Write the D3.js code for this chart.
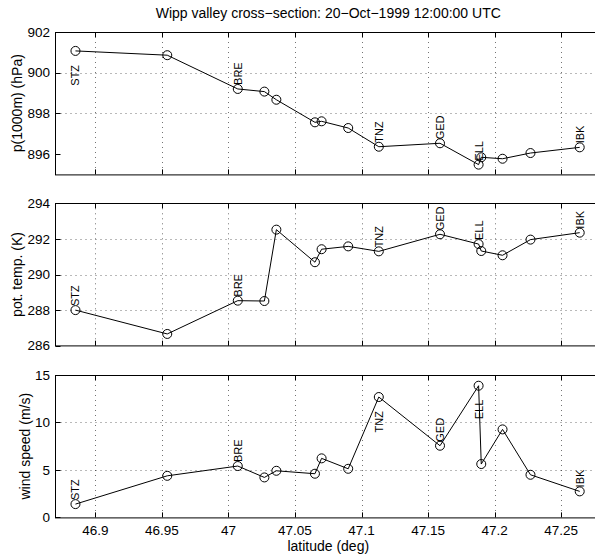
<!DOCTYPE html>
<html>
<head>
<meta charset="utf-8">
<script src="https://cdn.jsdelivr.net/npm/d3@7"></script>
<style>
  body { margin: 0; background: #fff; }
  text { font-family: "Liberation Sans", Arial, Helvetica, sans-serif; }
</style>
</head>
<body>
<div id="chart"></div>
<script>
// station data along the valley
const stations  = ["STZ", "", "BRE", "", "", "", "", "", "TNZ", "GED", "ELL", "", "", "", "IBK"]
const latitude  = [46.885, 46.954, 47.007, 47.027, 47.036, 47.065, 47.070, 47.090, 47.113, 47.159, 47.188, 47.190, 47.206, 47.227, 47.264]
const pressure  = [901.07, 900.86, 899.20, 899.07, 898.67, 897.56, 897.61, 897.28, 896.36, 896.53, 895.48, 895.84, 895.77, 896.05, 896.33]
const potTemp   = [288.00, 286.66, 288.53, 288.51, 292.52, 290.69, 291.42, 291.58, 291.30, 292.26, 291.71, 291.32, 291.08, 291.96, 292.35]
const windSpeed = [1.40, 4.38, 5.41, 4.21, 4.91, 4.60, 6.22, 5.12, 12.68, 7.55, 13.87, 5.62, 9.27, 4.49, 2.74]

// which side of the point the station name goes: 1 above, -1 below
const pressureSide = [-1, 0, 1, 0, 0, 0, 0, 0, 1, 1, 1, 0, 0, 0, 1]
const tempSide     = [1, 0, 1, 0, 0, 0, 0, 0, 1, 1, 1, 0, 0, 0, 1]
const windSide     = [1, 0, 1, 0, 0, 0, 0, 0, -1, 1, -1, 0, 0, 0, 1]

const xTicks = [46.9, 46.95, 47, 47.05, 47.1, 47.15, 47.2, 47.25]
const xTickLabels = ["46.9", "46.95", "47", "47.05", "47.1", "47.15", "47.2", "47.25"]
const pressureTicks = [896, 898, 900, 902]
const tempTicks = [286, 288, 290, 292, 294]
const windTicks = [0, 5, 10, 15]

const title = "Wipp valley cross\u2212section: 20\u2212Oct\u22121999 12:00:00 UTC"

const W = 595, H = 554
const margin = { left: 55.5, right: 601 }
const panelH = 142.4

const panels = [
  { top: 32,    values: pressure,  domain: [895, 902], ticks: pressureTicks, label: "p(1000m) (hPa)", side: pressureSide },
  { top: 203.3, values: potTemp,   domain: [286, 294], ticks: tempTicks,     label: "pot. temp. (K)", side: tempSide },
  { top: 375,   values: windSpeed, domain: [0, 15],    ticks: windTicks,     label: "wind speed (m/s)", side: windSide },
]

const svg = d3.select("#chart")
  .append("svg")
  .attr("width", W)
  .attr("height", H)

const x = d3.scaleLinear()
  .domain([46.87, 47.28])
  .range([margin.left, margin.right])

panels.forEach((p, pi) => {
  const y = d3.scaleLinear()
    .domain(p.domain)
    .range([p.top + panelH, p.top])

  const g = svg.append("g")

  // dotted grid
  xTicks.forEach(t => {
    g.append("line")
      .attr("x1", Math.round(x(t)) + 0.5).attr("x2", Math.round(x(t)) + 0.5)
      .attr("y1", p.top).attr("y2", p.top + panelH)
      .attr("stroke", "#000").attr("stroke-opacity", 0.55)
      .attr("stroke-dasharray", "1,4")
  })
  p.ticks.slice(1, -1).forEach(t => {
    g.append("line")
      .attr("x1", margin.left).attr("x2", margin.right)
      .attr("y1", Math.round(y(t)) + 0.5).attr("y2", Math.round(y(t)) + 0.5)
      .attr("stroke", "#000").attr("stroke-opacity", 0.55)
      .attr("stroke-dasharray", "1,4")
  })

  // box
  g.append("rect")
    .attr("x", margin.left).attr("y", Math.round(p.top) + 0.5)
    .attr("width", margin.right - margin.left).attr("height", panelH)
    .attr("fill", "none").attr("stroke", "#000").attr("stroke-width", 1)

  // inward ticks
  xTicks.forEach(t => {
    const xx = Math.round(x(t)) + 0.5
    g.append("line").attr("x1", xx).attr("x2", xx)
      .attr("y1", p.top + panelH).attr("y2", p.top + panelH - 5).attr("stroke", "#000")
    g.append("line").attr("x1", xx).attr("x2", xx)
      .attr("y1", p.top).attr("y2", p.top + 5).attr("stroke", "#000")
  })
  p.ticks.forEach(t => {
    const yy = Math.round(y(t)) + 0.5
    g.append("line").attr("x1", margin.left).attr("x2", margin.left + 5)
      .attr("y1", yy).attr("y2", yy).attr("stroke", "#000")
  })

  // y tick labels
  const tl = g.selectAll(".ytl")
    .data(p.ticks)
    .join("text")
    .attr("class", "ytl")
    .attr("x", 50)
    .attr("y", d => y(d))
    .attr("dy", "0.35em")
    .attr("text-anchor", "end")
    .attr("font-size", 13.5)
    .text(d => d)

  const minX = d3.min(tl.nodes(), n => n.getBBox().x)

  // y label
  g.append("text")
    .attr("transform", `translate(${minX - 5},${p.top + panelH / 2}) rotate(-90)`)
    .attr("text-anchor", "middle")
    .attr("font-size", 14)
    .text(p.label)

  // line and markers
  const pts = latitude.map((lat, i) => ({ x: lat, v: p.values[i], name: stations[i], side: p.side[i] }))
  g.append("path")
    .datum(pts)
    .attr("fill", "none")
    .attr("stroke", "#000")
    .attr("stroke-width", 1)
    .attr("d", d3.line()
      .x(d => x(d.x))
      .y(d => y(d.v))
    )
  g.selectAll(".mk")
    .data(pts)
    .join("circle")
    .attr("class", "mk")
    .attr("cx", d => x(d.x))
    .attr("cy", d => y(d.v))
    .attr("r", 4.5)
    .attr("fill", "none")
    .attr("stroke", "#000")
    .attr("stroke-width", 1)

  // station names
  g.selectAll(".st")
    .data(pts.filter(d => d.name))
    .join("text")
    .attr("class", "st")
    .attr("transform", d => `translate(${x(d.x) + 4},${y(d.v) + (d.side > 0 ? -4 : 14)}) rotate(-90)`)
    .attr("text-anchor", d => d.side > 0 ? "start" : "end")
    .attr("font-size", 11)
    .text(d => d.name)

  // x tick labels only on the bottom panel
  if (pi === panels.length - 1) {
    g.selectAll(".xtl")
      .data(xTicks)
      .join("text")
      .attr("class", "xtl")
      .attr("x", d => x(d))
      .attr("y", 535)
      .attr("text-anchor", "middle")
      .attr("font-size", 13.5)
      .text((d, i) => xTickLabels[i])
  }
})

svg.append("text")
  .attr("x", (margin.left + margin.right) / 2)
  .attr("y", 551)
  .attr("text-anchor", "middle")
  .attr("font-size", 14)
  .text("latitude (deg)")

svg.append("text")
  .attr("x", (margin.left + margin.right) / 2)
  .attr("y", 18)
  .attr("text-anchor", "middle")
  .attr("font-size", 14)
  .text(title)
</script>
</body>
</html>
